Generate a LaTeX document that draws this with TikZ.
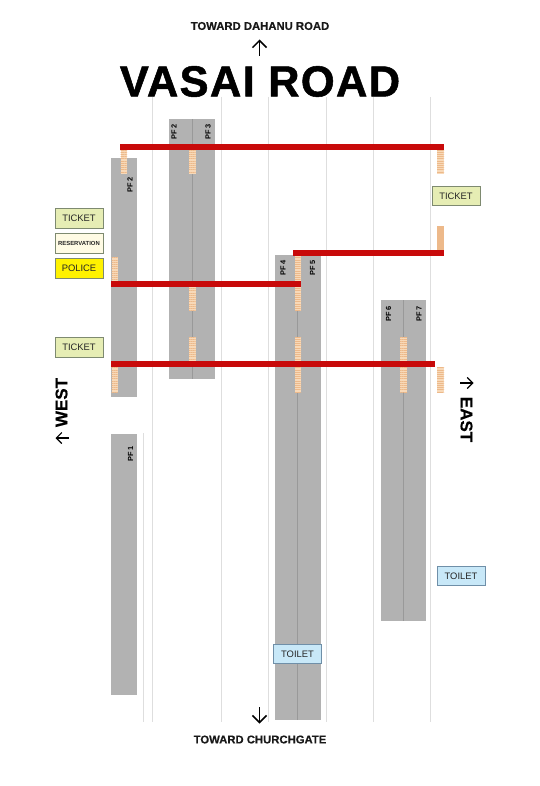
\documentclass[tikz,border=0pt]{standalone}
\usepackage{fontspec}
\setmainfont{Liberation Sans}
\newfontface\titleheavy{Liberation Sans Bold}[FakeBold=1.2,LetterSpace=3]
\newfontface\headheavy{Liberation Sans Bold}[FakeBold=0.4]
\usetikzlibrary{arrows.meta,patterns.meta}
\definecolor{platgray}{HTML}{B2B2B2}
\definecolor{platline}{HTML}{999999}
\definecolor{trackline}{HTML}{DEDEDE}
\definecolor{bridgered}{HTML}{C80A0A}
\definecolor{stairbase}{HTML}{F8D9B8}
\definecolor{stairline}{HTML}{EDB98A}
\definecolor{ticketfill}{HTML}{E6EDB4}
\definecolor{ticketedge}{HTML}{7E8A70}
\definecolor{resfill}{HTML}{FFFBE4}
\definecolor{toiletfill}{HTML}{C8E8F8}
\definecolor{toiletedge}{HTML}{6F8FA8}
\tikzset{
  x=1pt,y=-1pt,
  trackrule/.style={draw=trackline,line width=1pt},
  platform/.style={fill=platgray},
  platmid/.style={draw=platline,line width=.8pt},
  bridge/.style={fill=bridgered},
  stairhatch/.style={preaction={fill=stairbase},pattern={Lines[angle=0,distance=2.2pt,line width=1pt]},pattern color=stairline},
  stairplain/.style={fill=stairline},
  infobox/.style={draw,line width=.7pt,minimum width=48pt,minimum height=19.5pt,inner sep=0pt,font=\fontsize{9.4}{11}\selectfont,text=black!85},
  ticketbox/.style={infobox,fill=ticketfill,draw=ticketedge},
  resbox/.style={infobox,fill=resfill,draw=ticketedge,font=\fontsize{5.9}{7}\bfseries\selectfont},
  policebox/.style={infobox,fill=yellow,draw=ticketedge},
  toiletbox/.style={infobox,fill=toiletfill,draw=toiletedge},
  pflabel/.style={rotate=90,font=\fontsize{7.4}{9}\bfseries\selectfont,text=black,inner sep=0pt},
  headlabel/.style={font=\fontsize{11.3}{13}\headheavy,text=black!90,inner sep=0pt},
  sidelabel/.style={font=\fontsize{17}{20}\headheavy,inner sep=0pt},
  pointer/.style={draw=black,line width=1.5pt,-{Straight Barb[length=7pt,width=14pt,line width=1.5pt]}},
  sidepointer/.style={draw=black,line width=1.1pt,-{Straight Barb[length=5.5pt,width=11pt,line width=1.1pt]}}
}
\begin{document}
\begin{tikzpicture}
\useasboundingbox (0,0) rectangle (540,786);
% track rules
\foreach \tx in {152,221,268,326,373.5,430}
  \draw[trackrule] (\tx,97) -- (\tx,722);
\draw[trackrule] (143.5,433) -- (143.5,722);
% platforms
\fill[platform] (111,158) rectangle (137,397);
\fill[platform] (111,433.5) rectangle (137,695);
\fill[platform] (169,119.5) rectangle (215,379);
\fill[platform] (275,255) rectangle (320.5,720);
\fill[platform] (381,300) rectangle (426,621);
\draw[platmid] (192,119.5) -- (192,379);
\draw[platmid] (297.5,255) -- (297.5,720);
\draw[platmid] (403.5,300) -- (403.5,621);
% stairs
\path[stairhatch] (120.5,150) rectangle (127,174);
\path[stairhatch] (189,150) rectangle (195.7,174);
\path[stairhatch] (111.5,257) rectangle (117.5,281);
\path[stairhatch] (189,287) rectangle (195.7,311);
\path[stairhatch] (189,337) rectangle (195.7,361);
\path[stairhatch] (111.5,367) rectangle (117.5,392);
\path[stairhatch] (437,150) rectangle (444,174);
\fill[stairplain] (437,226) rectangle (444,250);
\path[stairhatch] (295,256) rectangle (301,311);
\path[stairhatch] (295,337) rectangle (301,392);
\path[stairhatch] (400,337) rectangle (407,392);
\path[stairhatch] (437,367) rectangle (444,392);
% bridges
\fill[bridge] (120,144) rectangle (444,150);
\fill[bridge] (293,250) rectangle (444,256);
\fill[bridge] (111,281) rectangle (301,287);
\fill[bridge] (111,361) rectangle (434.5,367);
% platform labels
\node[pflabel] (pf2a) at (130,185) {PF 2};
\node[pflabel] (pf2b) at (174,132) {PF 2};
\node[pflabel] (pf3) at (208,132) {PF 3};
\node[pflabel] (pf4) at (283,268) {PF 4};
\node[pflabel] (pf5) at (312.5,268) {PF 5};
\node[pflabel] (pf6) at (388.5,314) {PF 6};
\node[pflabel] (pf7) at (419,314) {PF 7};
\node[pflabel] (pf1) at (130.5,454) {PF 1};
% info boxes
\node[ticketbox] (ticketa) at (79,218.5) {TICKET};
\node[resbox] (reservation) at (79,243.5) {RESERVATION};
\node[policebox] (police) at (79,268.3) {POLICE};
\node[ticketbox] (ticketb) at (79,347.5) {TICKET};
\node[ticketbox] (ticketc) at (456,196) {TICKET};
\node[toiletbox] (toileta) at (461,576) {TOILET};
\node[toiletbox] (toiletb) at (297.5,654) {TOILET};
% headings
\node[headlabel] (north) at (260,26) {TOWARD DAHANU ROAD};
\node[headlabel] (south) at (260,739.5) {TOWARD CHURCHGATE};
\node[inner sep=0pt,font=\fontsize{43.5}{48}\titleheavy] (title) at (260,81.5) {VASAI ROAD};
\node[sidelabel,rotate=90] (west) at (61.5,402.5) {WEST};
\node[sidelabel,rotate=-90] (east) at (466.5,419.5) {EAST};
% direction pointers
\coordinate (northa) at (259.5,56);
\coordinate (northb) at (259.5,39.5);
\coordinate (southa) at (259.5,707);
\coordinate (southb) at (259.5,723.5);
\coordinate (westa) at (69,438);
\coordinate (westb) at (55.5,438);
\coordinate (easta) at (460,383);
\coordinate (eastb) at (473.5,383);
\draw[pointer] (northa) -- (northb);
\draw[pointer] (southa) -- (southb);
\draw[sidepointer] (westa) -- (westb);
\draw[sidepointer] (easta) -- (eastb);
\end{tikzpicture}
\end{document}
